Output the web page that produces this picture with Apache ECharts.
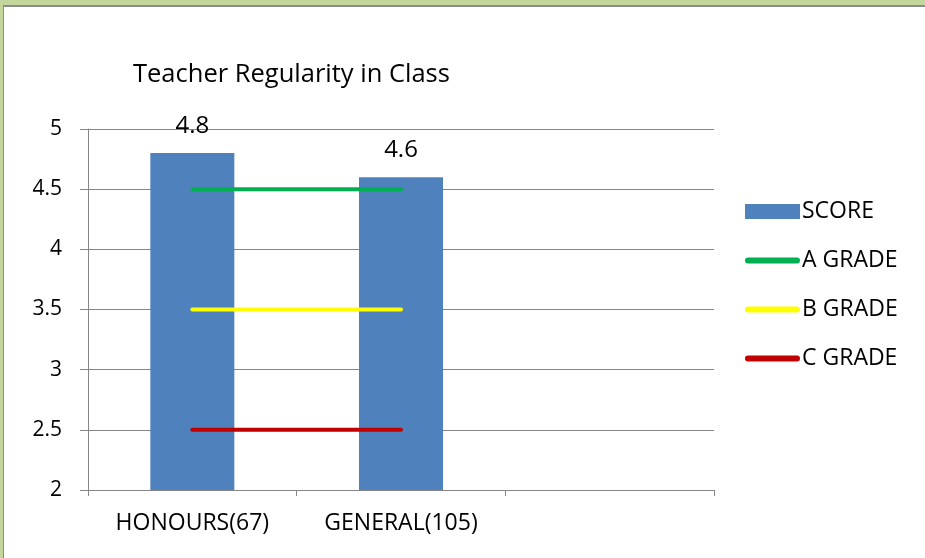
<!DOCTYPE html>
<html>
<head>
<meta charset="utf-8">
<script src="https://cdn.jsdelivr.net/npm/echarts@6/dist/echarts.min.js"></script>
<style>
  html, body { margin: 0; padding: 0; background: #c3d69b; }
  #frame {
    position: absolute; left: 3px; top: 5px; width: 930px; height: 560px;
    background: #fff; border-left: 1px solid #8c8c8c; border-top: 2px solid #8c8c8c;
  }
  #chart { position: absolute; left: -4px; top: -7px; width: 925px; height: 558px; }
</style>
</head>
<body>
<div id="frame"><div id="chart"></div></div>
<script>
// 类别与数值
const categories = ["HONOURS(67)", "GENERAL(105)", ""];
const scores = [4.8, 4.6, null];
const gradeA = [4.5, 4.5, null];
const gradeB = [3.5, 3.5, null];
const gradeC = [2.5, 2.5, null];

const font = "'Open Sans', 'Liberation Sans', sans-serif";
const axisGray = "#868686";
// 图例中的圆头线条
const lineIcon = "path://M3,0 H53 A3,3 0 0 1 53,6 H3 A3,3 0 0 1 3,0 Z";

function gradeLine(name, data, color) {
  return {
    name: name,
    type: "line",
    data: data,
    symbol: "none",
    lineStyle: { color: color, width: 4, cap: "round" },
    itemStyle: { color: color },
    z: 3,
  };
}

const chart = echarts.init(document.getElementById("chart"));
chart.setOption({
  animation: false,
  title: {
    text: "Teacher Regularity in Class",
    left: 128,
    top: 57,
    textStyle: { fontFamily: font, fontSize: 25.5, fontWeight: "normal", color: "#000" },
  },
  grid: { left: 88, right: 211, top: 129, bottom: 68 },
  legend: {
    orient: "vertical",
    left: 740,
    top: 195,
    itemWidth: 55,
    itemHeight: 15,
    itemGap: 26,
    textStyle: { fontFamily: font, fontSize: 23, lineHeight: 22, color: "#000", padding: [0, 0, 0, -3] },
    data: [
      { name: "SCORE", icon: "rect" },
      { name: "A GRADE", icon: lineIcon },
      { name: "B GRADE", icon: lineIcon },
      { name: "C GRADE", icon: lineIcon },
    ],
  },
  xAxis: {
    type: "category",
    data: categories,
    boundaryGap: true,
    axisLine: { lineStyle: { color: axisGray, width: 1 } },
    axisTick: { show: true, alignWithLabel: false, length: 6, lineStyle: { color: axisGray } },
    axisLabel: { fontFamily: font, fontSize: 23, color: "#000", margin: 22 },
  },
  yAxis: {
    type: "value",
    min: 2,
    max: 5,
    interval: 0.5,
    axisLine: { show: true, lineStyle: { color: axisGray } },
    axisTick: { show: true, length: 8, lineStyle: { color: axisGray } },
    axisLabel: { fontFamily: font, fontSize: 21, color: "#000", margin: 26 },
    splitLine: { lineStyle: { color: axisGray, width: 1 } },
  },
  series: [
    {
      name: "SCORE",
      type: "bar",
      data: scores,
      barWidth: 84,
      itemStyle: { color: "#4f81bd" },
      label: {
        show: true,
        position: "top",
        distance: 15,
        fontFamily: font,
        fontSize: 24,
        color: "#000",
      },
      z: 2,
    },
    gradeLine("A GRADE", gradeA, "#00b050"),
    gradeLine("B GRADE", gradeB, "#ffff00"),
    gradeLine("C GRADE", gradeC, "#c00000"),
  ],
});
</script>
</body>
</html>
